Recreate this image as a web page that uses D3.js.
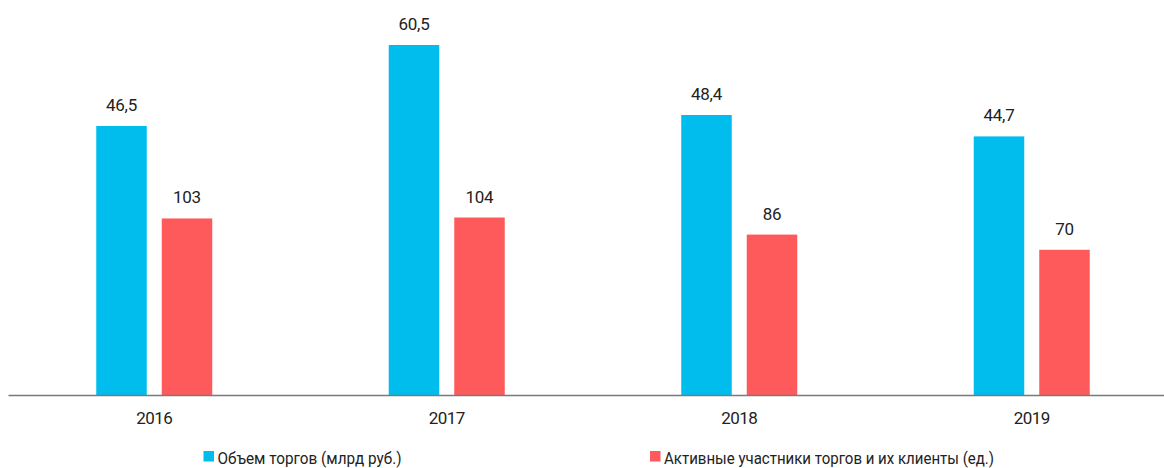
<!DOCTYPE html>
<html>
<head>
<meta charset="utf-8">
<script src="https://cdn.jsdelivr.net/npm/d3@7"></script>
<style>
  html, body { margin: 0; padding: 0; background: #fff; }
  svg { display: block; }
  text { font-family: Roboto, "Noto Sans", sans-serif; fill: #222; }
</style>
</head>
<body>
<svg id="chart" width="1164" height="468"></svg>
<script>
// Years on the category axis
const years = ["2016", "2017", "2018", "2019"];
// Trading volume, bn RUB
const volume = [46.5, 60.5, 48.4, 44.7];
// Active trading participants and their clients, units
const participants = [103, 104, 86, 70];
// Legend entries
const seriesNames = ["Объем торгов (млрд руб.)", "Активные участники торгов и их клиенты (ед.)"];
const seriesKeys = ["vol", "part"];
const colors = ["#00BDEE", "#FF5A5B"];

const svg = d3.select("#chart");
const baseY = 395;

const x = d3.scaleBand().domain(years).range([8, 1178]).padding(0);
const groupW = 116;
const inner = d3.scaleBand().domain(seriesKeys).range([0, groupW]).paddingInner(15 / 65.5).paddingOuter(0);

// Each series has its own vertical scale
const yVol = d3.scaleLinear().domain([0, 60.5]).range([baseY, 45]);
const yPart = d3.scaleLinear().domain([-83, 104]).range([baseY, 217.5]);

const rows = years.map((yr, i) => ({ year: yr, vol: volume[i], part: participants[i] }));
const fmt = v => String(v).replace(".", ",");

const groups = svg.append("g").selectAll("g")
  .data(rows).join("g")
  .attr("transform", d => `translate(${x(d.year) + (x.bandwidth() - groupW) / 2},0)`);

const scales = { vol: yVol, part: yPart };

seriesKeys.forEach((k, si) => {
  groups.append("rect")
    .attr("x", inner(k))
    .attr("width", inner.bandwidth())
    .attr("y", d => scales[k](d[k]))
    .attr("height", d => baseY - scales[k](d[k]))
    .attr("fill", colors[si]);

  groups.append("text")
    .attr("x", inner(k) + inner.bandwidth() / 2)
    .attr("y", d => scales[k](d[k]) - 15)
    .attr("text-anchor", "middle")
    .attr("font-size", 17)
    .attr("letter-spacing", -0.3)
    .text(d => fmt(d[k]));
});

// Category axis
const axis = svg.append("g").attr("transform", `translate(0,${baseY})`)
  .call(d3.axisBottom(x).tickSize(0).tickPadding(17));
axis.select(".domain").attr("stroke", "#7a7a7a").attr("stroke-width", 1.5);
axis.selectAll("text").attr("font-size", 17).attr("fill", "#222")
  .attr("letter-spacing", -0.6)
  .style("font-family", "Roboto, 'Noto Sans', sans-serif");

// Legend
const legendX = [203.5, 650];
const legendW = [184, 330];
const legend = svg.append("g").selectAll("g")
  .data(seriesNames).join("g")
  .attr("transform", (d, i) => `translate(${legendX[i]},451)`);
legend.append("rect").attr("width", 10.5).attr("height", 10.5)
  .attr("fill", (d, i) => colors[i]);
legend.append("text").attr("x", 14).attr("y", 13.3)
  .attr("font-size", 17)
  .attr("textLength", (d, i) => legendW[i])
  .attr("lengthAdjust", "spacingAndGlyphs")
  .text(d => d);
</script>
</body>
</html>
